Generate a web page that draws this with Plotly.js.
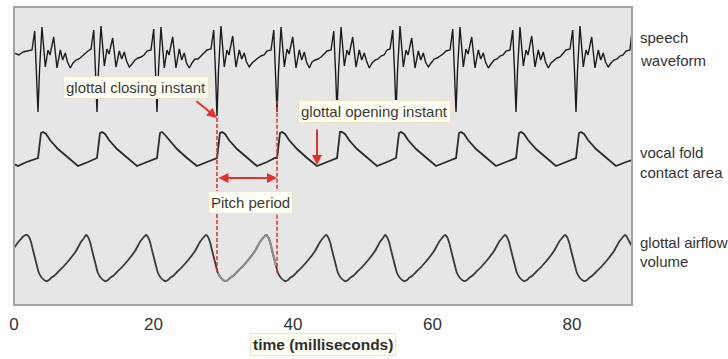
<!DOCTYPE html>
<html>
<head>
<meta charset="utf-8">
<script src="https://cdn.plot.ly/plotly-3.0.1.min.js"></script>
<style>
  html, body { margin: 0; padding: 0; background: #ffffff; }
  #chart { width: 728px; height: 359px; }
</style>
</head>
<body>
<div id="chart"></div>
<script>
// ---- time axis ----
const tickValues = [0, 20, 40, 60, 80];
const tickLabels = ['0', '20', '40', '60', '80'];

// ---- speech waveform (time in ms, relative amplitude) ----
const speechTime = [
  0, 0.7, 1.3, 1.9,
  2.58, 2.97, 3.22, 3.44, 3.66, 4.01, 4.49, 4.87, 5.16, 5.69, 6.16, 6.64, 6.98, 7.35, 7.67, 8.07, 8.46, 8.89, 9.32, 9.75, 10.18, 10.61,
  11.04, 11.43, 11.68, 11.90, 12.12, 12.47, 12.95, 13.33, 13.62, 14.15, 14.62, 15.10, 15.44, 15.81, 16.13, 16.53, 16.92, 17.35, 17.78, 18.21, 18.64, 19.07,
  19.64, 20.03, 20.28, 20.50, 20.72, 21.07, 21.55, 21.93, 22.22, 22.75, 23.22, 23.70, 24.04, 24.41, 24.73, 25.13, 25.52, 25.95, 26.38, 26.81, 27.24, 27.67,
  28.24, 28.63, 28.88, 29.10, 29.32, 29.67, 30.15, 30.53, 30.82, 31.35, 31.82, 32.30, 32.64, 33.01, 33.33, 33.73, 34.12, 34.55, 34.98, 35.41, 35.84, 36.27,
  36.85, 37.24, 37.49, 37.71, 37.93, 38.28, 38.76, 39.14, 39.43, 39.96, 40.43, 40.91, 41.25, 41.62, 41.94, 42.34, 42.73, 43.16, 43.59, 44.02, 44.45, 44.88,
  45.45, 45.84, 46.09, 46.31, 46.53, 46.88, 47.36, 47.74, 48.03, 48.56, 49.03, 49.51, 49.85, 50.22, 50.54, 50.94, 51.33, 51.76, 52.19, 52.62, 53.05, 53.48,
  53.91, 54.30, 54.55, 54.77, 54.99, 55.34, 55.82, 56.20, 56.49, 57.02, 57.49, 57.97, 58.31, 58.68, 59.00, 59.40, 59.79, 60.22, 60.65, 61.08, 61.51, 61.94,
  62.51, 62.90, 63.15, 63.37, 63.59, 63.94, 64.42, 64.80, 65.09, 65.62, 66.09, 66.57, 66.91, 67.28, 67.60, 68.00, 68.39, 68.82, 69.25, 69.68, 70.11, 70.54,
  71.11, 71.50, 71.75, 71.97, 72.19, 72.54, 73.02, 73.40, 73.69, 74.22, 74.69, 75.17, 75.51, 75.88, 76.20, 76.60, 76.99, 77.42, 77.85, 78.28, 78.71, 79.14,
  79.71, 80.10, 80.35, 80.57, 80.79, 81.14, 81.62, 82.00, 82.29, 82.82, 83.29, 83.77, 84.11, 84.48, 84.80, 85.20, 85.59, 86.02, 86.45, 86.88, 87.31, 87.74,
  88.31, 88.6
];
const speechAmp = [
  2, 0, 3, 4,
  5, 24, -15, -57, -15, 28, -12, 5, 0, 18, -13, 5, -5, 2, -7, -13, -8, -5, -4, -1, 1, 4,
  6, 25, -16, -57, -14, 29, -11, 6, 1, 17, -12, 4, -4, 3, -6, -12, -9, -5, -3, -2, 0, 4,
  5, 26, -15, -57, -15, 28, -13, 5, 0, 18, -13, 6, -5, 2, -8, -13, -8, -4, -4, -1, 1, 5,
  6, 25, -15, -61, -15, 29, -12, 5, 0, 19, -12, 5, -4, 2, -7, -12, -8, -5, -3, -1, 0, 4,
  5, 25, -14, -57, -15, 28, -12, 6, 1, 18, -13, 5, -5, 3, -7, -13, -7, -5, -4, -2, 1, 4,
  5, 24, -15, -57, -16, 28, -11, 5, 0, 18, -12, 5, -5, 2, -6, -13, -8, -5, -4, -1, 0, 5,
  6, 25, -15, -57, -15, 29, -12, 5, 0, 17, -13, 4, -5, 2, -7, -12, -8, -4, -3, -1, 1, 4,
  5, 26, -16, -57, -14, 28, -12, 6, 1, 18, -13, 5, -4, 2, -7, -13, -9, -5, -4, -1, 0, 4,
  5, 25, -15, -57, -15, 28, -11, 5, 0, 19, -12, 5, -5, 3, -7, -13, -8, -5, -3, -2, 1, 5,
  6, 25, -15, -57, -15, 29, -12, 5, 0, 18, -13, 5, -5, 2, -7, -12, -8, -5, -4, -1, 0, 4,
  5, 24
];

// ---- vocal fold contact area ----
const contactTime = [
  0, 0.57, 1.8, 3.2,
  3.44, 3.87, 4.16, 4.59, 5.16, 6.31, 7.74, 9.17, 10.61, 11.76,
  11.90, 12.33, 12.62, 13.05, 13.62, 14.77, 16.20, 17.63, 19.07, 20.22,
  20.50, 20.93, 21.22, 21.65, 22.22, 23.37, 24.80, 26.23, 27.67, 28.82,
  29.10, 29.53, 29.82, 30.25, 30.82, 31.97, 33.40, 34.83, 36.27, 37.42,
  37.71, 38.14, 38.43, 38.86, 39.43, 40.58, 42.01, 43.44, 44.88, 46.03,
  46.31, 46.74, 47.03, 47.46, 48.03, 49.18, 50.61, 52.04, 53.48, 54.63,
  54.77, 55.20, 55.49, 55.92, 56.49, 57.64, 59.07, 60.50, 61.94, 63.09,
  63.37, 63.80, 64.09, 64.52, 65.09, 66.24, 67.67, 69.10, 70.54, 71.69,
  71.97, 72.40, 72.69, 73.12, 73.69, 74.84, 76.27, 77.70, 79.14, 80.29,
  80.57, 81.00, 81.29, 81.72, 82.29, 83.44, 84.87, 86.30, 87.74, 88.6
];
const contactArea = [
  2, 0, 4, 7,
  8, 33, 34, 32, 26, 17, 8, 0, 4, 7,
  8, 33, 34, 32, 26, 17, 8, 0, 4, 7,
  8, 33, 34, 31, 26, 17, 8, 0, 4, 7,
  8, 33, 34, 32, 26, 17, 8, 0, 4, 8,
  8, 33, 34, 32, 26, 17, 8, 0, 4, 7,
  8, 34, 34, 32, 26, 17, 8, 0, 4, 7,
  8, 33, 34, 32, 26, 17, 8, 0, 4, 7,
  8, 33, 34, 32, 26, 17, 8, 0, 4, 7,
  8, 33, 34, 32, 26, 17, 8, 0, 4, 7,
  8, 33, 34, 32, 26, 17, 8, 0, 4, 6
];

// ---- glottal airflow volume ----
const airflowTime = [
  0, 0.5, 1.0, 1.4,
  1.86, 2.15, 2.44, 2.72, 3.01, 3.30, 3.58, 4.01, 4.59, 5.02, 5.30, 5.73, 6.31, 7.17, 8.03, 8.89, 9.60, 10.04,
  10.32, 10.61, 10.90, 11.18, 11.47, 11.76, 12.04, 12.47, 13.05, 13.48, 13.76, 14.19, 14.77, 15.63, 16.49, 17.35, 18.06, 18.50,
  18.92, 19.21, 19.50, 19.78, 20.07, 20.36, 20.64, 21.07, 21.65, 22.08, 22.36, 22.79, 23.37, 24.23, 25.09, 25.95, 26.66, 27.10,
  27.52, 27.81, 28.10, 28.38, 28.67, 28.96, 29.24, 29.67, 30.25, 30.68, 30.96, 31.39, 31.97, 32.83, 33.69, 34.55, 35.26, 35.70,
  36.13, 36.42, 36.71, 36.99, 37.28, 37.57, 37.85, 38.28, 38.86, 39.29, 39.57, 40.00, 40.58, 41.44, 42.30, 43.16, 43.87, 44.31,
  44.73, 45.02, 45.31, 45.59, 45.88, 46.17, 46.45, 46.88, 47.46, 47.89, 48.17, 48.60, 49.18, 50.04, 50.90, 51.76, 52.47, 52.91,
  53.19, 53.48, 53.77, 54.05, 54.34, 54.63, 54.91, 55.34, 55.92, 56.35, 56.63, 57.06, 57.64, 58.50, 59.36, 60.22, 60.93, 61.37,
  61.79, 62.08, 62.37, 62.65, 62.94, 63.23, 63.51, 63.94, 64.52, 64.95, 65.23, 65.66, 66.24, 67.10, 67.96, 68.82, 69.53, 69.97,
  70.39, 70.68, 70.97, 71.25, 71.54, 71.83, 72.11, 72.54, 73.12, 73.55, 73.83, 74.26, 74.84, 75.70, 76.56, 77.42, 78.13, 78.57,
  78.99, 79.28, 79.57, 79.85, 80.14, 80.43, 80.71, 81.14, 81.72, 82.15, 82.43, 82.86, 83.44, 84.30, 85.16, 86.02, 86.73, 87.17,
  87.59, 87.88, 88.17, 88.6
];
const airflowVolume = [
  33, 38, 42, 45,
  46, 44, 39, 31, 23, 15, 8, 3, 0, 1, 3, 5, 9, 15, 22, 30, 39, 43,
  46, 44, 39, 31, 23, 15, 8, 3, 0, 1, 3, 5, 9, 15, 22, 30, 39, 43,
  46, 44, 39, 31, 23, 15, 8, 3, 0, 1, 3, 5, 9, 15, 22, 30, 39, 43,
  46, 44, 39, 31, 23, 15, 8, 3, 0, 1, 3, 5, 9, 15, 22, 30, 39, 43,
  46, 44, 39, 31, 23, 15, 8, 3, 0, 1, 3, 5, 9, 15, 22, 30, 39, 43,
  46, 44, 39, 31, 23, 15, 8, 3, 0, 1, 3, 5, 9, 15, 22, 30, 39, 43,
  46, 44, 39, 31, 23, 15, 8, 3, 0, 1, 3, 5, 9, 15, 22, 30, 39, 43,
  46, 44, 39, 31, 23, 15, 8, 3, 0, 1, 3, 5, 9, 15, 22, 30, 39, 43,
  46, 44, 39, 31, 23, 15, 8, 3, 0, 1, 3, 5, 9, 15, 22, 30, 39, 43,
  46, 44, 39, 31, 23, 15, 8, 3, 0, 1, 3, 5, 9, 15, 22, 30, 39, 43,
  46, 44, 40, 35
];

// ---- marked events ----
const closingInstants = [29.10, 37.71];   // one pitch period between them
const openingInstant = 43.44;
const closingSpikeAmp = -63;
const openingContact = 1;

const seriesLabels = [
  ['speech', 'waveform'],
  ['vocal fold', 'contact area'],
  ['glottal airflow', 'volume']
];

const FONT = 'Arial, "Liberation Sans", Helvetica, sans-serif';
const RED = '#e3302a';
const INK = '#2a2a2a';
const TEXT = '#3a3a3a';
const BOX_BG = '#fffef3';
const BOX_EDGE = '#ebe5c6';

// the airflow inside the marked pitch period is drawn in a lighter grey
const periodTime = [], periodVolume = [];
airflowTime.forEach(function (t, i) {
  if (t >= closingInstants[0] && t <= closingInstants[1]) {
    periodTime.push(t);
    periodVolume.push(airflowVolume[i]);
  }
});

const traces = [
  { x: speechTime, y: speechAmp, yaxis: 'y', type: 'scatter', mode: 'lines',
    line: { color: '#1c1c1c', width: 1.4 }, hoverinfo: 'skip' },
  { x: contactTime, y: contactArea, yaxis: 'y2', type: 'scatter', mode: 'lines',
    line: { color: INK, width: 1.8 }, hoverinfo: 'skip' },
  { x: airflowTime, y: airflowVolume, yaxis: 'y3', type: 'scatter', mode: 'lines',
    line: { color: '#3a3a3a', width: 1.8, shape: 'spline', smoothing: 0.6 }, hoverinfo: 'skip' },
  { x: periodTime, y: periodVolume, yaxis: 'y3', type: 'scatter', mode: 'lines',
    line: { color: '#8e8e8e', width: 2, shape: 'spline', smoothing: 0.6 }, hoverinfo: 'skip' }
];

function textBox(text, x, y, extra) {
  return Object.assign({
    text: text, xref: 'paper', yref: 'paper', x: x, y: y,
    xanchor: 'center', yanchor: 'middle', showarrow: false,
    font: { family: FONT, size: 15, color: TEXT },
    bgcolor: BOX_BG, bordercolor: BOX_EDGE, borderwidth: 1, borderpad: 2
  }, extra || {});
}

function sideLabel(text, y) {
  return { text: text, xref: 'paper', yref: 'paper', x: 1.0097, y: y,
    xanchor: 'left', yanchor: 'middle', showarrow: false,
    font: { family: FONT, size: 15, color: '#333333' } };
}

const annotations = [
  // arrows
  { x: closingInstants[0], y: closingSpikeAmp, xref: 'x', yref: 'y',
    ax: -22, ay: -18, text: '', showarrow: true,
    arrowhead: 2, arrowsize: 1, arrowwidth: 2, arrowcolor: RED, standoff: 0 },
  { x: openingInstant, y: openingContact, xref: 'x', yref: 'y2',
    ax: 0, ay: -37, text: '', showarrow: true,
    arrowhead: 2, arrowsize: 1, arrowwidth: 2, arrowcolor: RED, standoff: 0 },
  { x: closingInstants[1], y: 0.426, xref: 'x', yref: 'paper',
    ax: closingInstants[0], axref: 'x', ay: 0, ayref: 'pixel', text: '', showarrow: true,
    arrowside: 'end+start', arrowhead: 2, arrowsize: 1, arrowwidth: 2, arrowcolor: RED,
    standoff: 0, startstandoff: 0 },
  // boxed notes
  textBox('glottal closing instant', 0.198, 0.7315),
  textBox('glottal opening instant', 0.5833, 0.6493),
  textBox('Pitch period', 0.3819, 0.344),
  textBox('<b>time (milliseconds)</b>', 0.5008, -0.1326, { font: { family: FONT, size: 15.5, color: '#2e2e2e' } }),
  // series names
  sideLabel(seriesLabels[0][0], 0.896),
  sideLabel(seriesLabels[0][1], 0.822),
  sideLabel(seriesLabels[1][0], 0.5134),
  sideLabel(seriesLabels[1][1], 0.4463),
  sideLabel(seriesLabels[2][0], 0.2114),
  sideLabel(seriesLabels[2][1], 0.1443)
];

const shapes = [
  { type: 'rect', xref: 'paper', yref: 'paper', x0: 0, x1: 1, y0: 0, y1: 1,
    fillcolor: '#e6e6e6', line: { width: 0 }, layer: 'below' },
  { type: 'line', xref: 'x', yref: 'paper', x0: closingInstants[0], x1: closingInstants[0],
    y0: 0.111, y1: 0.631, line: { color: RED, width: 1.5, dash: '4px,2px' }, layer: 'above' },
  { type: 'line', xref: 'x', yref: 'paper', x0: closingInstants[1], x1: closingInstants[1],
    y0: 0.108, y1: 0.688, line: { color: RED, width: 1.5, dash: '4px,2px' }, layer: 'above' },
  { type: 'rect', xref: 'paper', yref: 'paper', x0: 0, x1: 1, y0: 0, y1: 1,
    fillcolor: 'rgba(0,0,0,0)', line: { color: '#a2a2a2', width: 2 }, layer: 'above' }
];

const layout = {
  width: 728, height: 359,
  margin: { l: 14, r: 96, t: 7, b: 54, pad: 0 },
  paper_bgcolor: '#ffffff', plot_bgcolor: 'rgba(0,0,0,0)',
  showlegend: false,
  font: { family: FONT, color: '#333333' },
  xaxis: {
    range: [0, 88.6], domain: [0, 1], anchor: 'free', position: 0,
    tickvals: tickValues, ticktext: tickLabels, ticks: '',
    showgrid: false, zeroline: false, showline: false,
    tickfont: { family: FONT, size: 17, color: '#333333' },
    ticklabelstandoff: 7, fixedrange: true
  },
  yaxis: { domain: [0.6208, 0.9732], range: [-65, 40], visible: false, fixedrange: true },
  yaxis2: { domain: [0.4530, 0.5940], range: [-4, 38], visible: false, anchor: 'x', fixedrange: true },
  yaxis3: { domain: [0.0671, 0.2517], range: [-4, 51], visible: false, anchor: 'x', fixedrange: true },
  shapes: shapes,
  annotations: annotations
};

Plotly.newPlot('chart', traces, layout, { displayModeBar: false, staticPlot: true });
</script>
</body>
</html>
